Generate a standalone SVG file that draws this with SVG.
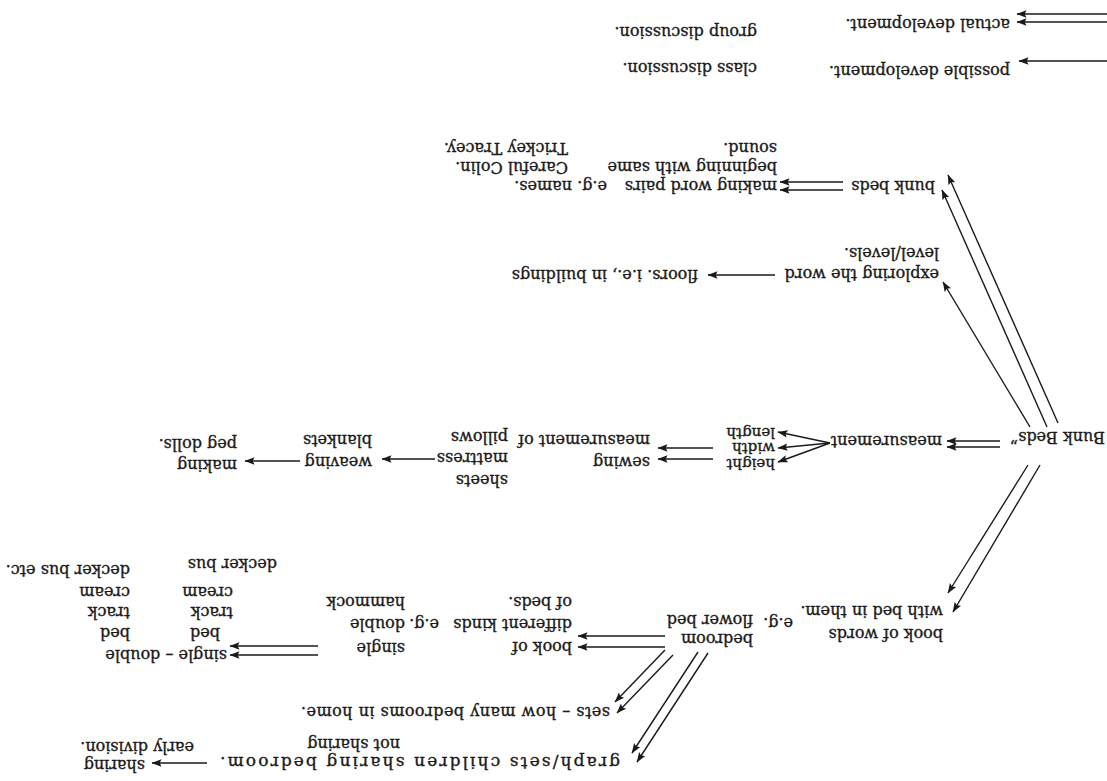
<svg xmlns="http://www.w3.org/2000/svg" width="1107" height="781" viewBox="0 0 1107 781">
<style>
.t{font-family:"DejaVu Serif","Liberation Serif",serif;font-size:16px;fill:#1a1a1a;stroke:#1a1a1a;stroke-width:0.35}
.s{font-size:15px}
.c path{stroke:#1a1a1a;stroke-width:1.4;fill:none;marker-end:url(#ah)}
</style>
<defs>
<marker id="ah" markerUnits="userSpaceOnUse" markerWidth="11" markerHeight="9" refX="9.5" refY="4.5" orient="auto">
<path d="M0,0.8 L10,4.5 L0,8.2 L1.8,4.5 z" fill="#1a1a1a"/>
</marker>
</defs>
<rect width="1107" height="781" fill="#ffffff"/>
<g transform="rotate(180 553.5 390.5)">
<g id="connectors" class="c">
<path d="M0,759 H90"/><path d="M0,767 H90"/>
<path d="M0,720 H88"/>
<path d="M107,334 H160"/><path d="M107,340 H160"/>
<path d="M277,338 L329,319"/><path d="M277,338 L329,333"/><path d="M277,338 L329,349"/>
<path d="M394,322 H449"/><path d="M394,333 H449"/>
<path d="M672,322 H725"/>
<path d="M807,320 H862"/>
<path d="M49,358 L159,606"/><path d="M60,354 L165,591"/><path d="M77,354 L164,499"/>
<path d="M264,591 H327"/><path d="M264,599 H327"/>
<path d="M332,506 H399"/>
<path d="M79,316 L159,188"/><path d="M67,316 L154,169"/>
<path d="M442,134 H529"/><path d="M442,145 H529"/>
<path d="M442,131 L492,79"/><path d="M434,126 L490,68"/>
<path d="M409,129 L475,28"/><path d="M399,128 L470,19"/>
<path d="M789,126 H877"/><path d="M789,135 H877"/>
<path d="M900,18 H955"/>
</g>
<g id="legend-actual"><text class="t" x="97" y="762">actual development.</text></g>
<g id="legend-group"><text class="t" x="350" y="754">group discussion.</text></g>
<g id="legend-possible"><text class="t" x="97" y="715">possible development.</text></g>
<g id="legend-class"><text class="t" x="350" y="718">class discussion.</text></g>
<g id="n-bunkbeds-root"><text class="t" x="2" y="349">Bunk Beds”</text></g>
<g id="n-measurement"><text class="t" x="165" y="345">measurement</text></g>
<g id="n-height"><text class="t s" x="332" y="322">height</text></g>
<g id="n-width"><text class="t s" x="332" y="338">width</text></g>
<g id="n-length"><text class="t s" x="332" y="353">length</text></g>
<g id="n-sewing"><text class="t" x="457" y="324">sewing</text><text class="t" x="457" y="346">measurement of</text></g>
<g id="n-sheets"><text class="t" x="599" y="306">sheets</text><text class="t" x="599" y="328">mattress</text><text class="t" x="599" y="349">pillows</text></g>
<g id="n-weaving"><text class="t" x="735" y="324">weaving</text><text class="t" x="735" y="346">blankets</text></g>
<g id="n-making"><text class="t" x="870" y="321">making</text><text class="t" x="870" y="342">peg dolls.</text></g>
<g id="n-bunkbeds"><text class="t" x="172" y="600">bunk beds</text></g>
<g id="n-wordpairs"><text class="t" x="330" y="600">making word pairs</text><text class="t" x="330" y="619">beginning with same</text><text class="t" x="330" y="638">sound.</text></g>
<g id="n-names"><text class="t" x="500" y="600">e.g. names.</text><text class="t" x="539" y="619">Careful Colin.</text><text class="t" x="539" y="638">Trickey Tracey.</text></g>
<g id="n-exploring"><text class="t" x="168" y="512">exploring the word</text><text class="t" x="168" y="533">level/levels.</text></g>
<g id="n-floors"><text class="t" x="409" y="511">floors. i.e., in buildings</text></g>
<g id="n-bookwords"><text class="t" x="164" y="152">book of words</text><text class="t" x="164" y="175">with bed in them.</text><text class="t" x="314" y="163">e.g.</text></g>
<g id="n-bedroom"><text class="t" x="354" y="147">bedroom</text><text class="t" x="354" y="166">flower bed</text></g>
<g id="n-bookof"><text class="t" x="535" y="139">book of</text><text class="t" x="535" y="162">different kinds</text><text class="t" x="668" y="162">e.g.</text><text class="t" x="535" y="184">of beds.</text></g>
<g id="n-kinds"><text class="t" x="702" y="138">single</text><text class="t" x="702" y="162">double</text><text class="t" x="702" y="184">hammock</text></g>
<g id="n-singledouble"><text class="t" x="880" y="131">single – double</text>
<text class="t" x="887" y="153">bed</text><text class="t" x="874" y="174">track</text><text class="t" x="874" y="194">cream</text><text class="t" x="830" y="222">decker bus</text>
<text class="t" x="977" y="153">bed</text><text class="t" x="977" y="174">track</text><text class="t" x="977" y="194">cream</text><text class="t" x="977" y="216">decker bus etc.</text></g>
<g id="n-sets"><text class="t" x="497" y="74" textLength="309" lengthAdjust="spacing">sets – how many bedrooms in home.</text></g>
<g id="n-graph"><text class="t" x="487" y="24" style="font-size:17px" textLength="400" lengthAdjust="spacing">graph/sets children sharing bedroom.</text><text class="t" x="707" y="42">not sharing</text></g>
<g id="n-sharing"><text class="t" x="962" y="21">sharing</text><text class="t" x="913" y="39">early division.</text></g>
</g>
</svg>
